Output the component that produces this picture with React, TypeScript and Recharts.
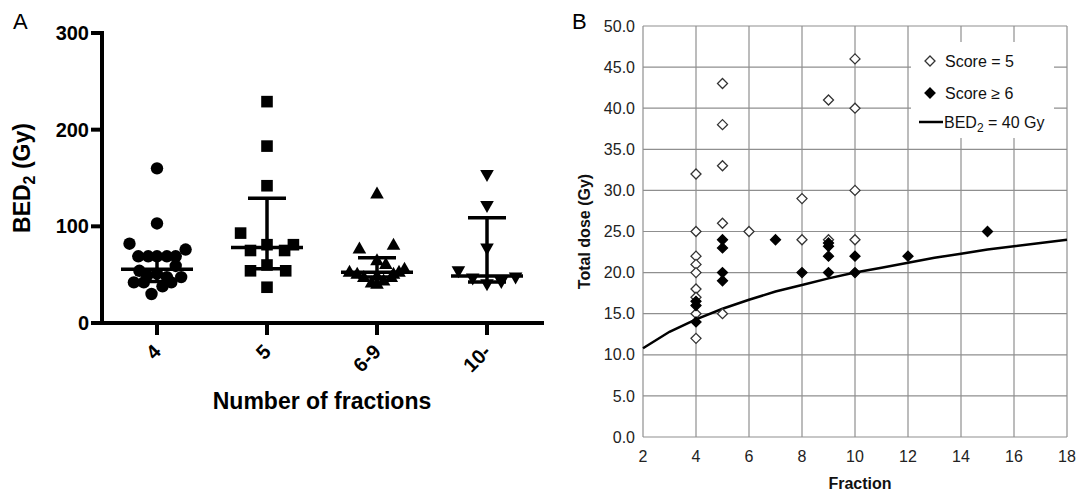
import React from "react";
import { ScatterChart, Scatter, XAxis, YAxis, CartesianGrid, ErrorBar, Label } from "recharts";

const FONT = "'Liberation Sans', Arial, Helvetica, sans-serif";

// ---- panel A: BED2 by number of fractions ----
const GROUPS = ["4", "5", "6-9", "10-"];

const G4_OFF = [0, 0, -0.25, 0.26, -0.17, -0.08, 0, 0.09, 0.17, 0.17, -0.16, -0.09, 0, 0.09, 0.22, -0.21, -0.12, 0.13, 0.05, -0.05];
const G4_BED = [160, 103, 82, 76, 69, 69, 69, 69, 69, 59, 54, 49, 51, 47.5, 47.5, 42, 42, 42, 38, 30];

const G5_OFF = [0, 0, 0, -0.24, -0.15, 0, 0.16, 0.24, -0.15, 0, 0.17, 0];
const G5_BED = [229, 183, 142, 93, 75, 81, 75, 81, 54, 60, 54, 37];

const G69_OFF = [0, 0.15, -0.16, 0, 0.08, 0.25, 0.2, -0.25, -0.18, 0.15, 0, -0.12, 0.13, 0.06, -0.05, 0];
const G69_BED = [134, 81, 77, 65, 61, 56, 53, 53, 51, 51, 49, 47.5, 47.5, 44, 42, 40.5];

const G10_OFF = [0, 0, 0, -0.26, -0.13, 0, 0.13, 0.26];
const G10_BED = [153, 121, 77, 53.5, 46, 40, 42.5, 47];

const MEDIAN = [55.5, 78, 52.5, 48.5];
const Q1 = [43, 56, 47.5, 42.5];
const Q3 = [69, 129, 67.5, 109];

// ---- panel B: total dose vs fraction ----
const OPEN_FRAC = [4, 4, 4, 4, 4, 4, 4, 4, 4, 5, 5, 5, 5, 5, 6, 8, 8, 9, 9, 10, 10, 10, 10];
const OPEN_DOSE = [32, 25, 22, 21, 20, 18, 17, 15, 12, 43, 38, 33, 26, 15, 25, 29, 24, 41, 24, 46, 40, 30, 24];

const FILLED_FRAC = [4, 4, 4, 5, 5, 5, 5, 7, 8, 9, 9, 9, 9, 10, 10, 12, 15];
const FILLED_DOSE = [16.5, 16, 14, 24, 23, 20, 19, 24, 20, 23.6, 23.2, 22, 20, 22, 20, 22, 25];

const BED_FRAC = [2, 3, 4, 5, 6, 7, 8, 9, 10, 11, 12, 13, 14, 15, 16, 17, 18];
const BED_DOSE = [10.8, 12.8, 14.3, 15.6, 16.7, 17.7, 18.5, 19.3, 20.0, 20.6, 21.2, 21.8, 22.3, 22.8, 23.2, 23.6, 24.0];

const toPoints = (group: number, offsets: number[], values: number[]) =>
  values.map((y, i) => ({ x: group + offsets[i], y }));

const pairs = (xs: number[], ys: number[]) => xs.map((x, i) => ({ x, y: ys[i] }));

const summary = MEDIAN.map((m, i) => ({ x: i + 1, y: m, iqr: [m - Q1[i], Q3[i] - m] }));

const CircleDot = ({ cx, cy }: any) => <circle cx={cx} cy={cy} r={6.2} fill="#000" />;
const SquareDot = ({ cx, cy }: any) => <rect x={cx - 5.8} y={cy - 5.8} width={11.6} height={11.6} fill="#000" />;
const TriUp = ({ cx, cy }: any) => (
  <polygon points={`${cx},${cy - 7} ${cx + 6.8},${cy + 5} ${cx - 6.8},${cy + 5}`} fill="#000" />
);
const TriDown = ({ cx, cy }: any) => (
  <polygon points={`${cx - 6.8},${cy - 5} ${cx + 6.8},${cy - 5} ${cx},${cy + 7}`} fill="#000" />
);
const MedianBar = ({ cx, cy }: any) => (
  <line x1={cx - 36} x2={cx + 36} y1={cy} y2={cy} stroke="#000" strokeWidth={3.5} />
);
const Diamond = ({ cx, cy, filled }: any) => (
  <polygon
    points={`${cx},${cy - 5} ${cx + 5},${cy} ${cx},${cy + 5} ${cx - 5},${cy}`}
    fill={filled ? "#000" : "#fff"}
    stroke={filled ? "#000" : "#333"}
    strokeWidth={1.3}
  />
);
const NoDot = () => <g />;

const GroupTick = ({ x, y, payload }: any) => {
  const ax = x + 5;
  const ay = y + 16;
  return (
    <text
      x={ax}
      y={ay}
      transform={`rotate(-45 ${ax} ${ay})`}
      textAnchor="end"
      fontFamily={FONT}
      fontWeight="bold"
      fontSize={20}
      fill="#000"
    >
      {GROUPS[payload.value - 1]}
    </text>
  );
};

const BedAxisLabel = ({ viewBox }: any) => {
  const cy = viewBox.y + viewBox.height / 2;
  return (
    <text
      x={30}
      y={cy}
      transform={`rotate(-90 30 ${cy})`}
      textAnchor="middle"
      fontFamily={FONT}
      fontWeight="bold"
      fontSize={23}
      fill="#000"
    >
      BED<tspan fontSize={16} dy={5}>2</tspan>
      <tspan dy={-5}> (Gy)</tspan>
    </text>
  );
};

const DoseAxisLabel = ({ viewBox }: any) => {
  const cy = viewBox.y + viewBox.height / 2;
  return (
    <text
      x={30}
      y={cy}
      transform={`rotate(-90 30 ${cy})`}
      textAnchor="middle"
      fontFamily={FONT}
      fontWeight="bold"
      fontSize={16}
      fill="#111"
    >
      Total dose (Gy)
    </text>
  );
};

const PanelA = () => (
  <ScatterChart width={560} height={492} margin={{ top: 33, right: 18, left: 42, bottom: 0 }}>
    <XAxis
      type="number"
      dataKey="x"
      domain={[0.5, 4.5]}
      ticks={[1, 2, 3, 4]}
      height={169}
      tickSize={12}
      tickMargin={2}
      axisLine={{ stroke: "#000", strokeWidth: 4, strokeLinecap: "square" }}
      tickLine={{ stroke: "#000", strokeWidth: 4 }}
      tick={<GroupTick />}
      interval={0}
    >
      <Label
        content={({ viewBox }: any) => (
          <text
            x={viewBox.x + viewBox.width / 2}
            y={viewBox.y + 86}
            textAnchor="middle"
            fontFamily={FONT}
            fontWeight="bold"
            fontSize={23}
            fill="#000"
          >
            Number of fractions
          </text>
        )}
      />
    </XAxis>
    <YAxis
      type="number"
      dataKey="y"
      domain={[0, 300]}
      ticks={[0, 100, 200, 300]}
      width={60}
      tickSize={11}
      tickMargin={2}
      axisLine={{ stroke: "#000", strokeWidth: 4, strokeLinecap: "square" }}
      tickLine={{ stroke: "#000", strokeWidth: 4 }}
      tick={{ fontFamily: FONT, fontWeight: "bold", fontSize: 20, fill: "#000" }}
    >
      <Label content={<BedAxisLabel />} />
    </YAxis>
    <Scatter data={toPoints(1, G4_OFF, G4_BED)} shape={<CircleDot />} isAnimationActive={false} />
    <Scatter data={toPoints(2, G5_OFF, G5_BED)} shape={<SquareDot />} isAnimationActive={false} />
    <Scatter data={toPoints(3, G69_OFF, G69_BED)} shape={<TriUp />} isAnimationActive={false} />
    <Scatter data={toPoints(4, G10_OFF, G10_BED)} shape={<TriDown />} isAnimationActive={false} />
    <Scatter data={summary} shape={<MedianBar />} isAnimationActive={false}>
      <ErrorBar dataKey="iqr" direction="y" width={19} stroke="#000" strokeWidth={3.5} />
    </Scatter>
  </ScatterChart>
);

const PanelB = () => (
  <ScatterChart width={517} height={492} margin={{ top: 26, right: 10, left: 23, bottom: 0 }}>
    <CartesianGrid stroke="#8f8f8f" strokeWidth={1.2} />
    <XAxis
      type="number"
      dataKey="x"
      domain={[2, 18]}
      ticks={[2, 4, 6, 8, 10, 12, 14, 16, 18]}
      height={55}
      axisLine={false}
      tickLine={false}
      tickSize={0}
      tickMargin={14}
      tick={{ fontFamily: FONT, fontSize: 16, fill: "#222" }}
      interval={0}
    >
      <Label
        content={({ viewBox }: any) => (
          <text
            x={viewBox.x + viewBox.width / 2 + 5}
            y={viewBox.y + 52}
            textAnchor="middle"
            fontFamily={FONT}
            fontWeight="bold"
            fontSize={16}
            fill="#111"
          >
            Fraction
          </text>
        )}
      />
    </XAxis>
    <YAxis
      type="number"
      dataKey="y"
      domain={[0, 50]}
      ticks={[0, 5, 10, 15, 20, 25, 30, 35, 40, 45, 50]}
      width={60}
      axisLine={false}
      tickLine={false}
      tickSize={0}
      tickMargin={8}
      tickFormatter={(v: number) => v.toFixed(1)}
      tick={{ fontFamily: FONT, fontSize: 16, fill: "#222" }}
      interval={0}
    >
      <Label content={<DoseAxisLabel />} />
    </YAxis>
    <Scatter
      data={pairs(BED_FRAC, BED_DOSE)}
      line={{ stroke: "#000", strokeWidth: 2.5 }}
      shape={<NoDot />}
      isAnimationActive={false}
    />
    <Scatter data={pairs(OPEN_FRAC, OPEN_DOSE)} shape={<Diamond />} isAnimationActive={false} />
    <Scatter data={pairs(FILLED_FRAC, FILLED_DOSE)} shape={<Diamond filled />} isAnimationActive={false} />
  </ScatterChart>
);

const Overlay = () => (
  <svg
    width={1077}
    height={492}
    style={{ position: "absolute", left: 0, top: 0, pointerEvents: "none" }}
    fontFamily={FONT}
  >
    <text x={13} y={29} fontSize={22} fill="#000">A</text>
    <text x={572} y={29} fontSize={22} fill="#000">B</text>
    <rect x={911} y={42} width={143} height={96} fill="#fff" />
    <Diamond cx={930} cy={61} />
    <text x={945} y={67} fontSize={16} fill="#111">Score = 5</text>
    <Diamond cx={930} cy={93} filled />
    <text x={945} y={99} fontSize={16} fill="#111">Score ≥ 6</text>
    <line x1={919} x2={943} y1={122} y2={122} stroke="#000" strokeWidth={2.5} />
    <text x={944} y={128} fontSize={16} fill="#111">
      BED<tspan fontSize={12} dy={4}>2</tspan>
      <tspan dy={-4}> = 40 Gy</tspan>
    </text>
  </svg>
);

export default function App() {
  return (
    <div style={{ position: "absolute", left: 0, top: 0, width: 1077, height: 492, background: "#fff" }}>
      <div style={{ position: "absolute", left: 0, top: 0 }}>
        <PanelA />
      </div>
      <div style={{ position: "absolute", left: 560, top: 0 }}>
        <PanelB />
      </div>
      <Overlay />
    </div>
  );
}
